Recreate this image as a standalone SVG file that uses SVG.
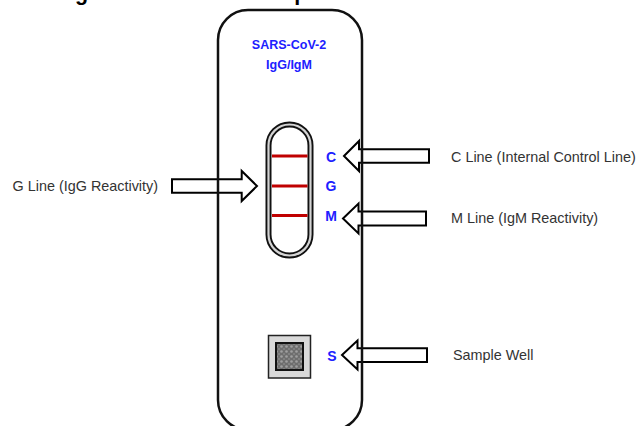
<svg xmlns="http://www.w3.org/2000/svg" width="641" height="426" viewBox="0 0 641 426">
  <style>
    .lbl { font-family: "Liberation Sans", Arial, sans-serif; font-size: 14.4px; fill: #333333; }
    .blue { font-family: "Liberation Sans", Arial, sans-serif; font-weight: bold; fill: #2020ff; text-anchor: middle; }
    .arrow { fill: #ffffff; stroke: #000000; stroke-width: 2; stroke-linejoin: miter; }
    .band { stroke: #c00000; stroke-width: 3; }
  </style>
  <defs>
    <pattern id="grain" x="0" y="0" width="5" height="5" patternUnits="userSpaceOnUse">
      <rect width="5" height="5" fill="#6e6e6e"/>
      <circle cx="1.5" cy="1.5" r="1.3" fill="#a0a0a0"/>
      <circle cx="4" cy="4" r="0.9" fill="#8a8a8a"/>
    </pattern>
  </defs>
  <rect width="641" height="426" fill="#ffffff"/>

  <text x="41.5" y="-0.5" font-family="'Liberation Sans', Arial, sans-serif" font-weight="bold" font-size="21.5" fill="#000">Diagram of the Test Components</text>

  <g id="cassette-body">
    <rect x="218" y="10" width="144" height="420" rx="30" fill="#ffffff"/>
  </g>

  <g id="connectors">
    <path id="arrow-g" class="arrow" d="M172,179.3 L241.7,179.3 L241.7,171 L257,186 L241.7,201 L241.7,192.7 L172,192.7 Z"/>
    <path id="arrow-c" class="arrow" d="M344,156 L359,141 L359,149.3 L429,149.3 L429,162.7 L359,162.7 L359,171 Z"/>
    <path id="arrow-m" class="arrow" d="M343,218.5 L358.5,203.5 L358.5,211.5 L426,211.5 L426,225.5 L358.5,225.5 L358.5,233.5 Z"/>
    <path id="arrow-s" class="arrow" d="M342,355 L357.5,340.5 L357.5,348.3 L427,348.3 L427,362 L357.5,362 L357.5,369.5 Z"/>
  </g>

  <g id="cassette">
    <rect x="218" y="10" width="144" height="420" rx="30" fill="none" stroke="#111" stroke-width="2.5"/>
    <text class="blue" x="289" y="49" font-size="12.5">SARS-CoV-2</text>
    <text class="blue" x="289" y="69" font-size="12.5">IgG/IgM</text>
  </g>

  <g id="result-window">
    <rect x="268.5" y="124.5" width="42" height="131" rx="21" fill="#ffffff" stroke="#111" stroke-width="6"/>
    <rect x="268.5" y="124.5" width="42" height="131" rx="21" fill="none" stroke="#d4d4d4" stroke-width="2.2"/>
    <line class="band" x1="272" y1="156" x2="307.5" y2="156"/>
    <line class="band" x1="272" y1="186" x2="307.5" y2="186"/>
    <line class="band" x1="272" y1="215.5" x2="307.5" y2="215.5"/>
  </g>

  <g id="letter-c"><text class="blue" x="331" y="162" font-size="14">C</text></g>
  <g id="letter-g"><text class="blue" x="331" y="191" font-size="14">G</text></g>
  <g id="letter-m"><text class="blue" x="331" y="221" font-size="14">M</text></g>

  <g id="sample-well">
    <rect x="268.5" y="335.5" width="42" height="42.5" fill="#d9d9d9" stroke="#222" stroke-width="1.5"/>
    <rect x="276" y="343" width="27" height="27" fill="url(#grain)" stroke="#111" stroke-width="2"/>
  </g>
  <g id="letter-s"><text class="blue" x="332" y="360.5" font-size="14">S</text></g>

  <g id="label-g"><text class="lbl" x="12.5" y="190.7">G Line (IgG Reactivity)</text></g>
  <g id="label-c"><text class="lbl" x="451" y="161.7">C Line (Internal Control Line)</text></g>
  <g id="label-m"><text class="lbl" x="451" y="222.7">M Line (IgM Reactivity)</text></g>
  <g id="label-s"><text class="lbl" x="453" y="359.5">Sample Well</text></g>
</svg>
